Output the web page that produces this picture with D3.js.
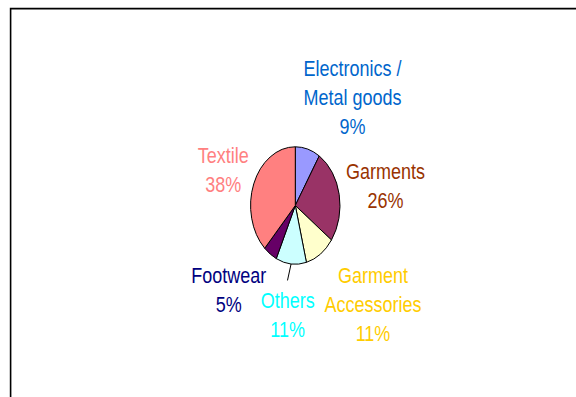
<!DOCTYPE html>
<html>
<head>
<meta charset="utf-8">
<script src="https://cdn.jsdelivr.net/npm/d3@7/dist/d3.min.js"></script>
<style>
  html, body { margin: 0; padding: 0; background: #fff; }
  svg { display: block; }
  text { font-family: "Liberation Sans", Arial, Helvetica, sans-serif; }
</style>
</head>
<body>
<svg id="chart" width="576" height="397"></svg>
<script>
// Export share by sector (percent), clockwise from 12 o'clock
const categories = ["Electronics / Metal goods", "Garments", "Garment Accessories", "Others", "Footwear", "Textile"];
const shares = [9, 26, 11, 11, 5, 38];
const sliceColors = ["#9999FF", "#993366", "#FFFFCC", "#CCFFFF", "#660066", "#FF8080"];
const labelColors = ["#0066CC", "#993300", "#FFCC00", "#00FFFF", "#000080", "#FF8080"];
const labelLines = [
  ["Electronics /", "Metal goods"],
  ["Garments"],
  ["Garment", "Accessories"],
  ["Others"],
  ["Footwear"],
  ["Textile"]
];

const svg = d3.select("#chart");
const W = 576, H = 397;

// Chart frame (open to the right and bottom)
svg.append("path")
  .attr("d", `M10.6,${H} V8.6 H${W}`)
  .attr("fill", "none")
  .attr("stroke", "#000")
  .attr("stroke-width", 1.6);

// Pie is drawn as a circle and squashed horizontally into an ellipse
const cx = 295.3, cy = 205.5, ry = 58.7, rx = 44.7;
const pie = d3.pie().sort(null).value(d => d).startAngle(0).endAngle(2 * Math.PI);
const arcs = pie(shares);
const arc = d3.arc().innerRadius(0).outerRadius(ry);

const g = svg.append("g")
  .attr("transform", `translate(${cx},${cy}) scale(${rx / ry},1)`);

g.selectAll("path.slice")
  .data(arcs)
  .join("path")
  .attr("class", "slice")
  .attr("d", arc)
  .attr("fill", (d, i) => sliceColors[i])
  .attr("stroke", "#000")
  .attr("stroke-width", 1)
  .attr("vector-effect", "non-scaling-stroke");

// Leader line for the "Others" label
const oth = arcs[3];
const mid = (oth.startAngle + oth.endAngle) / 2;
const ex = cx + rx * Math.sin(mid), ey = cy - ry * Math.cos(mid);
svg.append("path")
  .attr("d", `M${ex},${ey} L${ex - 3.6},${ey + 16.5}`)
  .attr("fill", "none")
  .attr("stroke", "#000")
  .attr("stroke-width", 1);

// Label anchors: centre x and first baseline y
const labelPos = [
  [352.5, 75.7],
  [385.5, 179.0],
  [373.0, 283.3],
  [287.7, 308.3],
  [228.8, 283.3],
  [223.3, 162.8]
];
const lineGap = 29;   // screen px between baselines
const stretchY = 1.22;

arcs.forEach((d, i) => {
  const lines = labelLines[i].concat([shares[i] + "%"]);
  const lg = svg.append("g")
    .attr("transform", `translate(${labelPos[i][0]},${labelPos[i][1]}) scale(1,${stretchY})`);
  lg.selectAll("text")
    .data(lines)
    .join("text")
    .attr("x", 0)
    .attr("y", (t, k) => k * lineGap / stretchY)
    .attr("text-anchor", "middle")
    .attr("font-size", 18)
    .attr("fill", labelColors[i])
    .text(t => t);
});
</script>
</body>
</html>
